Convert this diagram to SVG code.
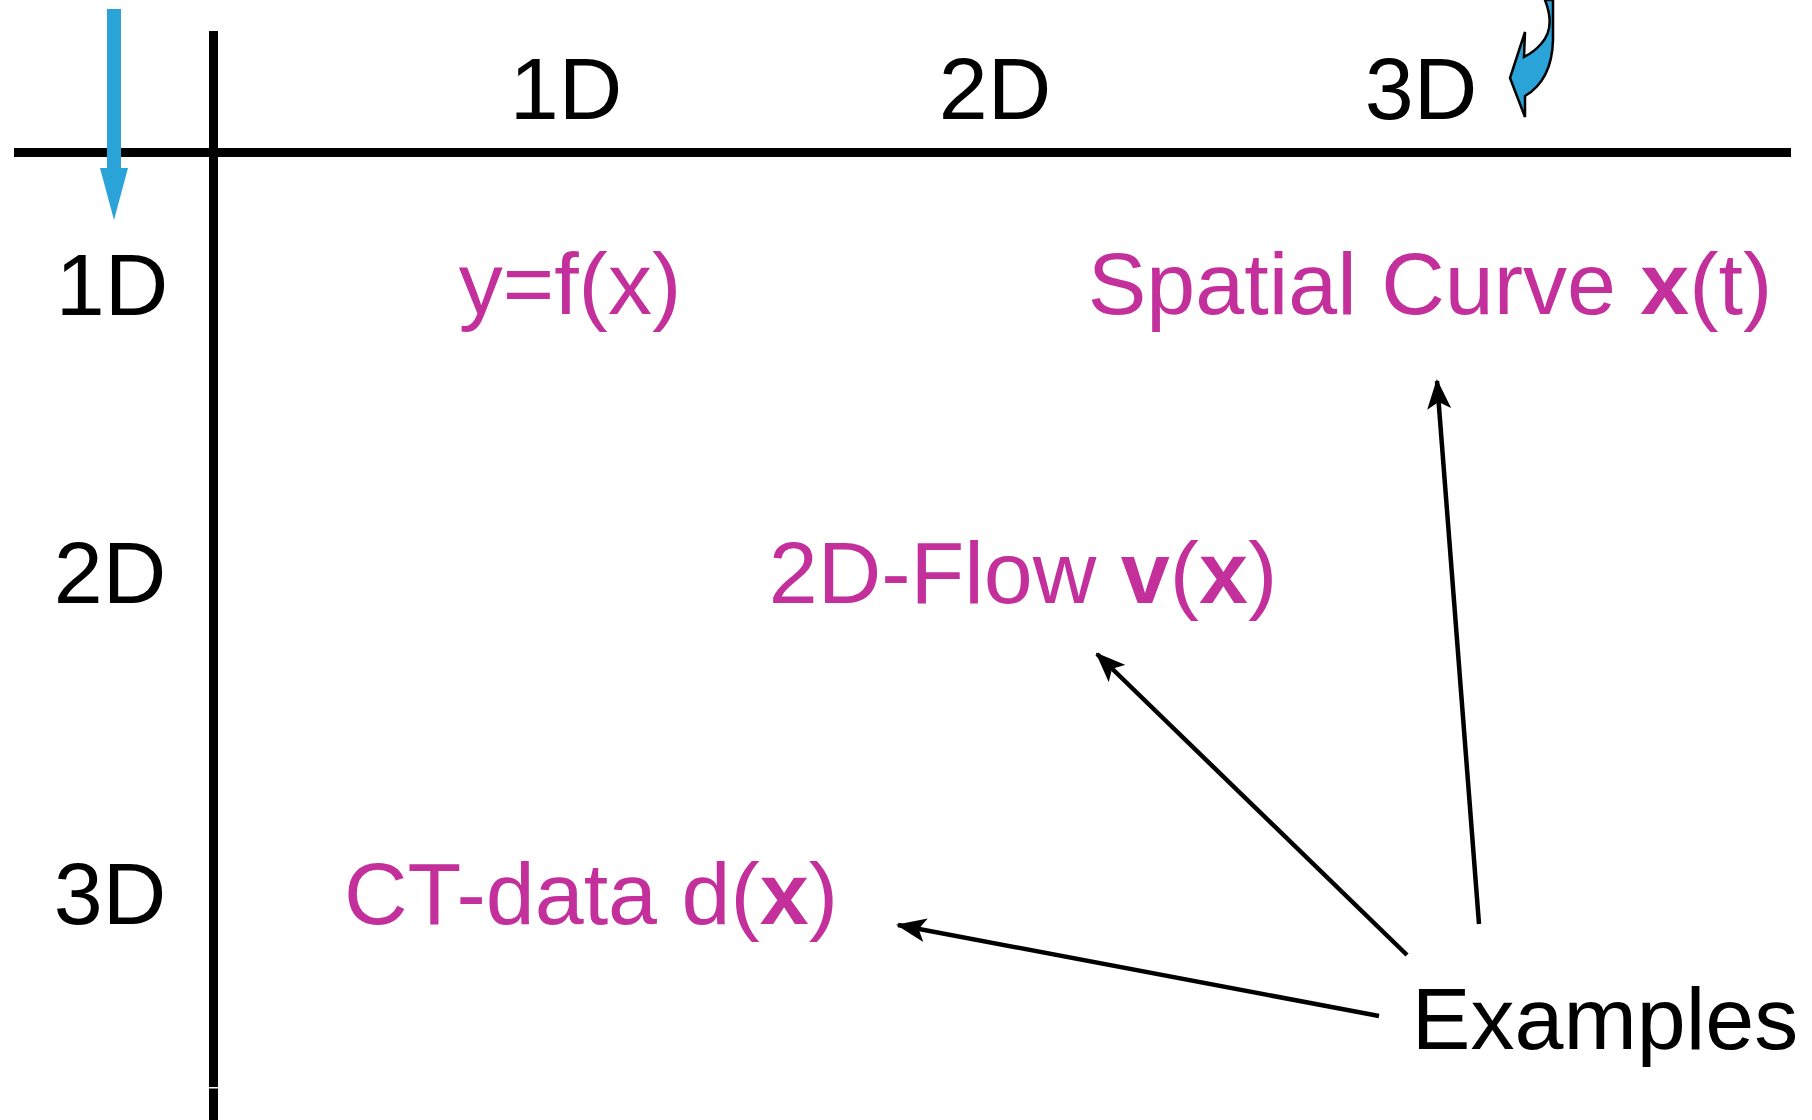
<svg xmlns="http://www.w3.org/2000/svg" width="1812" height="1120" viewBox="0 0 1812 1120">
<defs>
<style>
text{font-family:"Liberation Sans",Arial,sans-serif;font-size:88px;text-anchor:middle}
.lbl{fill:#000}
.ex{fill:#C3309B}
.b{font-weight:bold}
.axis{stroke:#000;stroke-width:9;fill:none}
.conn{stroke:#000;stroke-width:4.5;fill:none}
</style>
<marker id="ah" viewBox="0 0 30 24" refX="28" refY="12" markerWidth="30" markerHeight="24" markerUnits="userSpaceOnUse" orient="auto">
<path d="M30,12 L0,0 L7,12 L0,24 Z" fill="#000"/>
</marker>
</defs>
<rect width="1812" height="1120" fill="#fff"/>
<g id="axes">
<line class="axis" x1="14" y1="152.5" x2="1791" y2="152.5"/>
<line class="axis" x1="213.5" y1="31" x2="213.5" y2="1087"/>
<line class="axis" x1="213.5" y1="1088.5" x2="213.5" y2="1120"/>
</g>
<g id="blue-down-arrow">
<rect x="107" y="9" width="14" height="160" fill="#2AA3D9"/>
<polygon points="100,168 128,168 114,220" fill="#2AA3D9"/>
</g>
<g id="blue-curved-arrow">
<path d="M1545,0 Q1556,28 1541,44 Q1534,52 1524,57 L1525,32 L1510,78 L1525,117 L1525,96 Q1552,80 1553,40 L1553,0 Z" fill="#2AA3D9" stroke="#000" stroke-width="2.5" stroke-linejoin="miter"/>
</g>
<g id="col-1D"><text class="lbl" x="566" y="119">1D</text></g>
<g id="col-2D"><text class="lbl" x="995" y="119">2D</text></g>
<g id="col-3D"><text class="lbl" x="1421" y="119">3D</text></g>
<g id="row-1D"><text class="lbl" x="112" y="315">1D</text></g>
<g id="row-2D"><text class="lbl" x="110" y="603">2D</text></g>
<g id="row-3D"><text class="lbl" x="110" y="924">3D</text></g>
<g id="ex-yfx"><text class="ex" x="570" y="314">y=f(x)</text></g>
<g id="ex-spatial"><text class="ex" x="1430" y="314">Spatial Curve <tspan class="b">x</tspan>(t)</text></g>
<g id="ex-flow"><text class="ex" x="1023" y="603">2D-Flow <tspan class="b">v</tspan>(<tspan class="b">x</tspan>)</text></g>
<g id="ex-ct"><text class="ex" x="591" y="924">CT-data d(<tspan class="b">x</tspan>)</text></g>
<g id="examples"><text class="lbl" x="1605" y="1049">Examples</text></g>
<g id="connectors">
<line class="conn" x1="1407" y1="955" x2="1097" y2="654" marker-end="url(#ah)"/>
<line class="conn" x1="1479" y1="924" x2="1437" y2="381" marker-end="url(#ah)"/>
<line class="conn" x1="1379" y1="1016" x2="898" y2="925" marker-end="url(#ah)"/>
</g>
</svg>
